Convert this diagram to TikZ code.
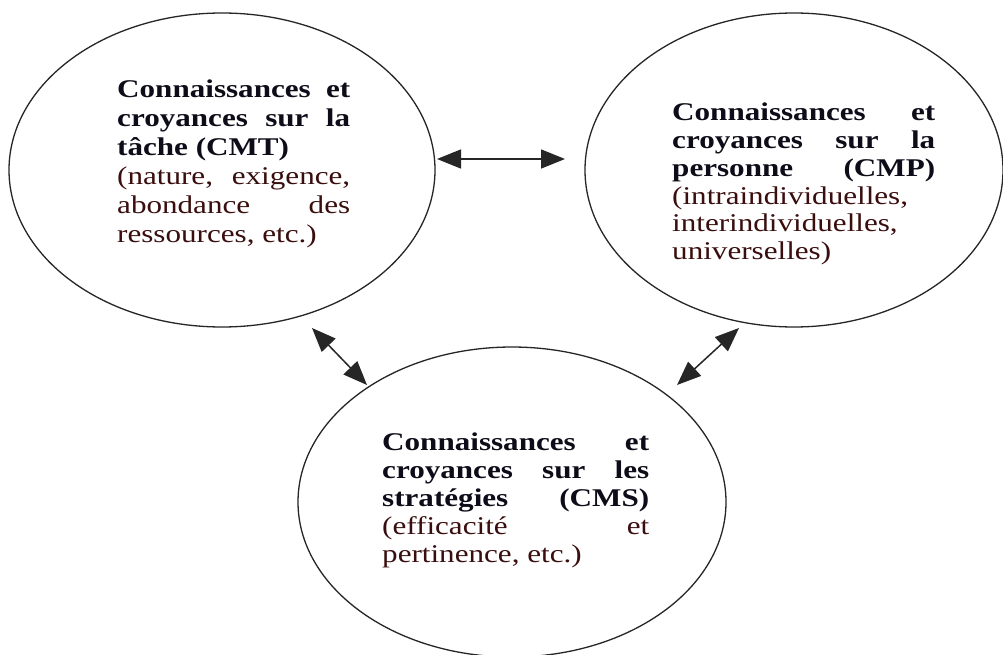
\documentclass[tikz,border=0pt]{standalone}
\usepackage{fontspec}
\setmainfont{Liberation Serif}[FakeStretch=1.22]
\usetikzlibrary{arrows.meta,shapes.geometric}

\definecolor{headink}{RGB}{14,12,24}
\definecolor{noteink}{RGB}{58,14,14}

% one justified line, one natural-width line, and a text block of given width
\newcommand\fullline[1]{\hbox to\hsize{#1}}
\newcommand\shortline[1]{\hbox{#1}}
\newcommand\cardtext[3]{\vtop{\hsize=#1\relax\baselineskip=#2\relax #3}}

\tikzset{
  oval/.style={draw=black!85, line width=1.3pt, ellipse, inner sep=0pt},
  cardlabel/.style={anchor=base west, inner sep=0pt,
    font=\fontsize{25.5}{28.5}\selectfont},
  link/.style={{Triangle[length=24pt,width=19pt]}-{Triangle[length=24pt,width=19pt]},
    line width=1.5pt, draw=black!85},
}

\begin{document}
\begin{tikzpicture}[x=1pt, y=-1pt]
\fill[white] (0,0) rectangle (1003,655);
\useasboundingbox (0,0) rectangle (1003,655);
\clip (0,0) rectangle (1003,655);

% the three knowledge domains
\node[oval, minimum width=426pt, minimum height=314pt] (cmt) at (222,170) {};
\node[oval, minimum width=418pt, minimum height=314pt] (cmp) at (794,170) {};
\node[oval, minimum width=428pt, minimum height=310pt] (cms) at (512,502) {};

\node[cardlabel] (cmtText) at (117,80) {\cardtext{233pt}{29pt}{%
  \color{headink}\bfseries
  \fullline{Connaissances et}
  \fullline{croyances sur la}
  \shortline{tâche (CMT)}
  \color{noteink}\mdseries
  \fullline{(nature, exigence,}
  \fullline{abondance des}
  \shortline{ressources, etc.)}}};

\node[cardlabel] (cmpText) at (672,103) {\cardtext{263pt}{27.8pt}{%
  \color{headink}\bfseries
  \fullline{Connaissances et}
  \fullline{croyances sur la}
  \fullline{personne (CMP)}
  \color{noteink}\mdseries
  \shortline{(intraindividuelles,}
  \shortline{interindividuelles,}
  \shortline{universelles)}}};

\node[cardlabel] (cmsText) at (382,433) {\cardtext{267pt}{28pt}{%
  \color{headink}\bfseries
  \fullline{Connaissances et}
  \fullline{croyances sur les}
  \fullline{stratégies (CMS)}
  \color{noteink}\mdseries
  \fullline{(efficacité et}
  \shortline{pertinence, etc.)}}};

% ends of the two-way arrows
\coordinate (tp) at (437,159);
\coordinate (pt) at (565,159);
\coordinate (ts) at (312,328);
\coordinate (st) at (367,385);
\coordinate (ps) at (739,328);
\coordinate (sp) at (677,385);

\draw[link] (tp) -- (pt);
\draw[link] (ts) -- (st);
\draw[link] (ps) -- (sp);
\end{tikzpicture}
\end{document}
